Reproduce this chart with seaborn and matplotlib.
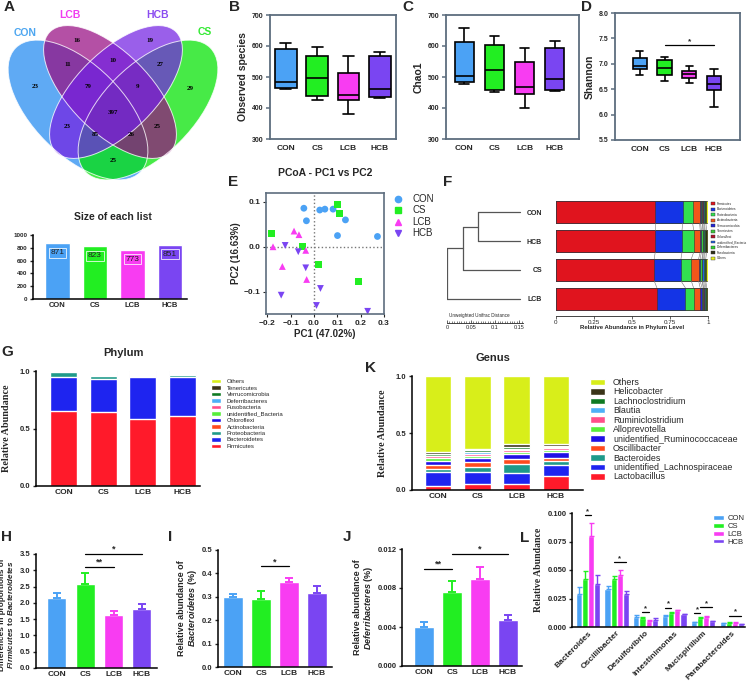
import numpy as np
import pandas as pd
import matplotlib
matplotlib.use('Agg')
import matplotlib.pyplot as plt
from matplotlib.patches import Ellipse, Patch
from matplotlib.lines import Line2D
from matplotlib.ticker import MultipleLocator
import seaborn as sns

sns.set_style('ticks')
plt.rcParams['font.family'] = ['Liberation Sans', 'DejaVu Sans']
plt.rcParams['font.weight'] = 'bold'
plt.rcParams['axes.labelweight'] = 'bold'
plt.rcParams['mathtext.fontset'] = 'custom'
plt.rcParams['mathtext.it'] = 'Liberation Sans:italic:bold'
plt.rcParams['mathtext.rm'] = 'Liberation Sans:bold'

# ---------------- data ----------------
groups = ['CON', 'CS', 'LCB', 'HCB']
group_colors = ['#4BA2F5', '#22EE22', '#F83CF2', '#7A45F2']

# A: venn
venn_sets = ['CON', 'CS', 'LCB', 'HCB']
venn_counts = [16, 19, 11, 10, 27, 23, 29, 79, 9, 397, 23, 85, 26, 25, 25]
list_sizes = [871, 823, 773, 851]

# B-D: min, q1, median, q3, max
observed = [[462, 464, 483, 590, 609], [427, 440, 496, 569, 598],
            [380, 427, 443, 513, 568], [432, 435, 462, 568, 581]]
chao1 = [[479, 485, 503, 613, 657], [451, 458, 522, 604, 633],
         [401, 446, 469, 549, 595], [455, 458, 495, 595, 615]]
shannon = [[6.77, 6.89, 6.96, 7.11, 7.26], [6.67, 6.78, 6.91, 7.07, 7.14],
           [6.62, 6.72, 6.80, 6.86, 6.95], [6.14, 6.49, 6.60, 6.76, 6.89]]

# E: PCoA
pc1_con = [-0.043, -0.032, 0.025, 0.047, 0.082, 0.135, 0.101, 0.272]
pc2_con = [0.086, 0.058, 0.082, 0.084, 0.084, 0.060, 0.025, 0.023]
pc1_cs = [-0.180, -0.050, 0.100, 0.108, 0.020, 0.190]
pc2_cs = [0.030, 0.000, 0.095, 0.074, -0.040, -0.077]
pc1_lcb = [-0.175, -0.085, -0.064, -0.135, -0.035, -0.031]
pc2_lcb = [0.000, 0.035, 0.027, -0.044, -0.008, -0.073]
pc1_hcb = [-0.123, -0.067, -0.035, -0.140, 0.028, 0.011, 0.230]
pc2_hcb = [0.003, -0.011, -0.047, -0.108, -0.093, -0.131, -0.144]

# F: UPGMA tree + phylum bars
tree_leaves = ['CON', 'HCB', 'CS', 'LCB']
merge_heights = [0.087, 0.119, 0.152]
f_phyla = ['Firmicutes', 'Bacteroidetes', 'Proteobacteria', 'Actinobacteria',
           'Verrucomicrobia', 'Tenericutes', 'Chloroflexi', 'unidentified_Bacteria',
           'Deferribacteres', 'Fusobacteria', 'Others']
f_colors = ['#E0141E', '#1434E6', '#32E050', '#F2561A', '#2424D8', '#3CC83C',
            '#B0102A', '#2060E0', '#30D030', '#2E3018', '#E6F020']
f_values = {
    'CON': [0.653, 0.180, 0.066, 0.046, 0.006, 0.010, 0.003, 0.008, 0.006, 0.008, 0.014],
    'HCB': [0.653, 0.176, 0.077, 0.043, 0.008, 0.009, 0.004, 0.006, 0.005, 0.010, 0.009],
    'CS':  [0.646, 0.176, 0.068, 0.048, 0.010, 0.012, 0.003, 0.008, 0.007, 0.007, 0.015],
    'LCB': [0.664, 0.187, 0.054, 0.044, 0.012, 0.008, 0.003, 0.006, 0.008, 0.006, 0.008],
}

# G: phylum stacked (bottom -> top)
phyla = ['Firmicutes', 'Bacteroidetes', 'Proteobacteria', 'Actinobacteria', 'Chloroflexi',
         'unidentified_Bacteria', 'Fusobacteria', 'Deferribacteres', 'Verrucomicrobia',
         'Tenericutes', 'Others']
phylum_values = {
    'CON': [0.650, 0.298, 0.040, 0.002, 0.004, 0.001, 0.002, 0.001, 0.001, 0.000, 0.001],
    'CS':  [0.642, 0.286, 0.032, 0.004, 0.010, 0.006, 0.002, 0.004, 0.008, 0.003, 0.003],
    'LCB': [0.581, 0.367, 0.012, 0.004, 0.003, 0.010, 0.002, 0.012, 0.004, 0.002, 0.003],
    'HCB': [0.610, 0.338, 0.014, 0.004, 0.004, 0.004, 0.002, 0.003, 0.012, 0.006, 0.003],
}
stack_colors = ['#FF1A2A', '#1E24F0', '#1E9A8A', '#FF4A1E', '#2010E6', '#58EE3A',
                '#FF4F8A', '#4DB0F7', '#0E7A22', '#3A3418', '#D8EE1A']

# K: genus stacked (bottom -> top)
genera = ['Lactobacillus', 'unidentified_Lachnospiraceae', 'Bacteroides', 'Oscillibacter',
          'unidentified_Ruminococcaceae', 'Alloprevotella', 'Ruminiclostridium', 'Blautia',
          'Lachnoclostridium', 'Helicobacter', 'Others']
genus_values = {
    'CON': [0.035, 0.120, 0.029, 0.035, 0.038, 0.020, 0.018, 0.005, 0.015, 0.017, 0.668],
    'CS':  [0.052, 0.108, 0.044, 0.038, 0.041, 0.014, 0.021, 0.011, 0.018, 0.017, 0.636],
    'LCB': [0.052, 0.100, 0.078, 0.041, 0.044, 0.020, 0.018, 0.009, 0.017, 0.023, 0.598],
    'HCB': [0.122, 0.097, 0.038, 0.026, 0.046, 0.018, 0.023, 0.009, 0.009, 0.014, 0.598],
}

# H-J: mean, sem
fb_ratio = [2.15, 2.57, 1.63, 1.82]
fb_sem = [0.15, 0.35, 0.12, 0.14]
bact_abund = [0.298, 0.292, 0.362, 0.318]
bact_sem = [0.015, 0.032, 0.020, 0.029]
defer_abund = [0.0040, 0.0076, 0.0089, 0.0047]
defer_sem = [0.0005, 0.0011, 0.0013, 0.0005]

# L: genus abundance (mean, sem per group)
l_genera = ['Bacteroides', 'Oscillibacter', 'Desulfovibrio', 'Intestinimonas',
            'Mucispirillum', 'Parabacteroides']
l_means = {
    'CON': [0.029, 0.033, 0.0090, 0.0100, 0.0042, 0.0035],
    'CS':  [0.042, 0.042, 0.0080, 0.0125, 0.0080, 0.0037],
    'LCB': [0.080, 0.046, 0.0055, 0.0145, 0.0090, 0.0037],
    'HCB': [0.038, 0.029, 0.0065, 0.0110, 0.0050, 0.0022],
}
l_sems = {
    'CON': [0.006, 0.003, 0.0012, 0.0006, 0.0006, 0.0003],
    'CS':  [0.007, 0.003, 0.0012, 0.0005, 0.0008, 0.0003],
    'LCB': [0.011, 0.004, 0.0006, 0.0005, 0.0010, 0.0003],
    'HCB': [0.008, 0.003, 0.0010, 0.0006, 0.0005, 0.0003],
}

# significance marks: (group a, group b, height, label)
sig_d = [(1, 3, 7.37, '*')]
sig_h = [(1, 3, 3.5, '*'), (1, 2, 3.1, '**')]
sig_i = [(1, 2, 0.43, '*')]
sig_j = [(0, 1, 0.0100, '**'), (1, 3, 0.0115, '*')]
sig_l = [(0, 1, 2, 0.098), (1, 1, 3, 0.057), (2, 1, 2, 0.013), (3, 0, 1, 0.017),
         (4, 0, 1, 0.012), (4, 1, 3, 0.0175), (5, 1, 3, 0.010)]

# ---------------- figure ----------------
W, H = 748, 682
fig = plt.figure(figsize=(W / 100, H / 100), dpi=100)


def add_ax(l, t, r, b):
    return fig.add_axes([l / W, 1 - b / H, (r - l) / W, (b - t) / H])


def ftext(x, y, s, **kw):
    fig.text(x / W, 1 - y / H, s, **kw)


def style_prism(ax, ylab_size=5.5):
    sns.despine(ax=ax)
    ax.spines['left'].set_linewidth(1.1)
    ax.spines['bottom'].set_linewidth(1.1)
    ax.spines['left'].set_color('black')
    ax.spines['bottom'].set_color('black')
    ax.tick_params(axis='x', length=0, labelsize=6, pad=2.5)
    ax.tick_params(axis='y', length=2.5, width=1, labelsize=ylab_size, pad=1.5)
    ax.set_xlabel('')


def add_sig(ax, x1, x2, y, label, fs=6.5):
    ax.plot([x1, x2], [y, y], color='black', lw=0.9, clip_on=False)
    ax.text((x1 + x2) / 2, y, label, ha='center', va='bottom', fontsize=fs, clip_on=False)


def bar_err(ax, means, sems, width):
    sns.barplot(x=groups, y=means, hue=groups, palette=group_colors, width=width,
                saturation=1, legend=False, ax=ax)
    for i, (m, s) in enumerate(zip(means, sems)):
        ax.errorbar(i, m, yerr=[[0], [s]], fmt='none', ecolor=group_colors[i],
                    elinewidth=1.4, capsize=3.2, capthick=1.4)


# ---- A: venn ----
ax = add_ax(0, 0, 225, 190)
ax.set_xlim(0, 225)
ax.set_ylim(190, 0)
ax.axis('off')
ell_fill = {'CON': '#2289F1', 'LCB': '#970C82', 'HCB': '#7421E3', 'CS': '#00E300'}
ell_geom = {'CON': ((78, 110), 176, 90, 45), 'LCB': ((110, 92), 170, 80, 45),
            'HCB': ((116, 92), 170, 80, -45), 'CS': ((148, 110), 176, 90, -45)}
for name in venn_sets:
    c, w, h, a = ell_geom[name]
    ax.add_patch(Ellipse(c, w, h, angle=a, facecolor=ell_fill[name], alpha=0.72,
                         edgecolor='none'))
for name in venn_sets:
    c, w, h, a = ell_geom[name]
    ax.add_patch(Ellipse(c, w, h, angle=a, facecolor='none', edgecolor='white', lw=0.7,
                         alpha=0.8))
venn_xy = [(77, 41), (150, 41), (68, 65), (113, 60), (160, 64), (35, 87), (190, 88),
           (88, 87), (137, 86), (113, 113), (67, 126), (95, 135), (131, 135),
           (157, 126), (113, 160)]
for (x, y), n in zip(venn_xy, venn_counts):
    ax.text(x, y, str(n), ha='center', va='center', fontsize=5, color='black',
            family=['Liberation Serif'])
label_col = {'CON': '#4DA6F0', 'LCB': '#F03CF0', 'HCB': '#8A4CF0', 'CS': '#33EA33'}
label_xy = {'CON': (25, 33), 'LCB': (70, 15), 'HCB': (158, 15), 'CS': (205, 32)}
for name in venn_sets:
    ftext(*label_xy[name], name, color=label_col[name], fontsize=7.5, ha='center', va='center')

ftext(113, 217, 'Size of each list', fontsize=7.5, ha='center', va='center')
ax = add_ax(33, 235, 187, 299)
sns.barplot(x=groups, y=list_sizes, hue=groups, palette=group_colors, width=0.66,
            saturation=1, legend=False, ax=ax)
for i, v in enumerate(list_sizes):
    ax.text(i, v - 150, str(v), ha='center', va='center', fontsize=6, fontweight='normal',
            color='#222222', bbox=dict(facecolor=group_colors[i], edgecolor='#ffffff',
                                       lw=0.6, alpha=0.9, pad=1.2))
ax.set_ylim(0, 1000)
ax.set_yticks(range(0, 1001, 200))
ax.set_xlim(-0.65, 3.45)
style_prism(ax, ylab_size=4.5)
ax.tick_params(axis='x', labelsize=5.5)

# ---- B-D: boxplots ----
def box_panel(box, five_nums, ylim, yticks, ylabel, width, xlim, tickfmt):
    ax = add_ax(*box)
    df = pd.DataFrame({'group': np.repeat(groups, 5), 'value': np.concatenate(five_nums)})
    sns.boxplot(data=df, x='group', y='value', hue='group', palette=group_colors,
                whis=(0, 100), width=width, linewidth=1.2, linecolor='black',
                showfliers=False, saturation=1, legend=False, ax=ax)
    ax.set_ylim(*ylim)
    ax.set_xlim(*xlim)
    ax.set_yticks(yticks)
    ax.set_yticklabels([tickfmt.format(t) for t in yticks])
    for s in ax.spines.values():
        s.set_color('#5d6d7e')
        s.set_linewidth(1.3)
    ax.tick_params(axis='x', length=0, labelsize=6, pad=4)
    ax.tick_params(axis='y', length=3, width=1.1, labelsize=5, pad=1.5, color='#5d6d7e')
    ax.set_xlabel('')
    ax.set_ylabel(ylabel, fontsize=7.5, labelpad=3)
    return ax


box_panel((270, 15, 396, 139), observed, (300, 700), [300, 400, 500, 600, 700],
          'Observed species', 0.7, (-0.51, 3.52), '{:.0f}')
box_panel((446, 15, 579, 139), chao1, (300, 700), [300, 400, 500, 600, 700],
          'Chao1', 0.62, (-0.6, 3.8), '{:.0f}')
ax = box_panel((615, 13, 740, 140), shannon, (5.5, 8.0), [5.5, 6.0, 6.5, 7.0, 7.5, 8.0],
               'Shannon', 0.57, (-1.0, 4.05), '{:.1f}')
for a, b, y, lab in sig_d:
    add_sig(ax, a, b, y, lab, fs=6)

# ---- E: PCoA ----
ax = add_ax(266, 193, 384, 314)
pcoa = pd.DataFrame({
    'pc1': pc1_con + pc1_cs + pc1_lcb + pc1_hcb,
    'pc2': pc2_con + pc2_cs + pc2_lcb + pc2_hcb,
    'group': ['CON'] * len(pc1_con) + ['CS'] * len(pc1_cs) + ['LCB'] * len(pc1_lcb)
             + ['HCB'] * len(pc1_hcb),
})
marker_map = {'CON': 'o', 'CS': 's', 'LCB': '^', 'HCB': 'v'}
ax.axhline(0, ls=':', color='#777777', lw=1, zorder=0)
ax.axvline(0, ls=':', color='#777777', lw=1, zorder=0)
sns.scatterplot(data=pcoa, x='pc1', y='pc2', hue='group', style='group', hue_order=groups,
                palette=group_colors, markers=marker_map, s=24, edgecolor='none',
                legend=False, ax=ax)
ax.set_xlim(-0.205, 0.3)
ax.set_ylim(-0.15, 0.12)
ax.set_xticks([-0.2, -0.1, 0.0, 0.1, 0.2, 0.3])
ax.set_yticks([-0.1, 0.0, 0.1])
for s in ax.spines.values():
    s.set_color('#5d6d7e')
    s.set_linewidth(1.2)
ax.tick_params(labelsize=6, length=2.5, pad=1.5)
ax.set_xlabel('PC1 (47.02%)', fontsize=7, labelpad=2)
ax.set_ylabel('PC2 (16.63%)', fontsize=7, labelpad=2)
ftext(325, 173, 'PCoA - PC1 vs PC2', fontsize=7.5, ha='center', va='center')
handles = [Line2D([], [], ls='none', marker=marker_map[g], color=c, markersize=4.5)
           for g, c in zip(groups, group_colors)]
fig.legend(handles, groups, loc='upper left', bbox_to_anchor=(392 / W, 1 - 194 / H),
           frameon=False, prop={'size': 7, 'weight': 'normal'}, handletextpad=0.9,
           labelspacing=0.15, borderpad=0, borderaxespad=0, handlelength=1.2)

# ---- F: tree + phylum bars ----
ax = add_ax(447, 198, 523, 316)
ax.set_xlim(0, 0.158)
ax.set_ylim(3.6, -0.5)
ax.axis('off')
root = merge_heights[-1]
node_y, node_x = 0, root
tip_x = root
for k, h in enumerate(merge_heights):
    xm = root - h
    if k == 0:
        ya, xa = 0, tip_x
    else:
        ya, xa = node_y, node_x
    yb, xb = k + 1, tip_x
    ax.plot([xm, xm], [ya, yb], color='#555555', lw=0.9)
    ax.plot([xm, xa], [ya, ya], color='#555555', lw=0.9)
    ax.plot([xm, xb], [yb, yb], color='#555555', lw=0.9)
    node_y, node_x = (ya + yb) / 2, xm

ax = add_ax(447, 300, 523, 323)
ax.set_xlim(0, 0.158)
for s in ['left', 'right', 'top']:
    ax.spines[s].set_visible(False)
ax.spines['bottom'].set_linewidth(0.6)
ax.set_yticks([])
ax.set_xticks([0, 0.05, 0.1, 0.15])
ax.set_xticklabels(['0', '0.05', '0.1', '0.15'])
ax.xaxis.set_minor_locator(MultipleLocator(0.005))
ax.tick_params(axis='x', which='major', direction='in', length=2, width=0.5, labelsize=4,
               pad=1.5)
ax.tick_params(axis='x', which='minor', direction='in', length=1.1, width=0.4)
ax.patch.set_alpha(0)
for t in ax.get_xticklabels():
    t.set_fontweight('normal')
ftext(449, 318, 'Unweighted Unifrac Distance', fontsize=3.3, fontweight='normal',
      ha='left', va='bottom')

ax = add_ax(556, 198, 708, 316)
f_cum = {g: np.cumsum(f_values[g]) for g in tree_leaves}
for k in range(len(f_phyla) - 1, -1, -1):
    sns.barplot(x=[f_cum[g][k] for g in tree_leaves], y=tree_leaves, orient='h',
                color=f_colors[k], width=0.76, saturation=1, edgecolor='#333333',
                linewidth=0.4, ax=ax)
for i in range(len(tree_leaves) - 1):
    for k in range(len(f_phyla) - 1):
        ax.plot([f_cum[tree_leaves[i]][k], f_cum[tree_leaves[i + 1]][k]],
                [i + 0.38, i + 1 - 0.38], color='#777777', lw=0.4)
ax.set_xlim(0, 1.0)
ax.set_ylim(3.6, -0.5)
for s in ['left', 'right', 'top']:
    ax.spines[s].set_visible(False)
ax.spines['bottom'].set_linewidth(0.6)
ax.set_xticks([0, 0.25, 0.5, 0.75, 1])
ax.set_xticklabels(['0', '0.25', '0.5', '0.75', '1'])
ax.tick_params(axis='x', length=2, width=0.5, labelsize=4.5, pad=1)
ax.tick_params(axis='y', length=0, labelsize=5, pad=10)
for t in ax.get_xticklabels():
    t.set_fontweight('normal')
ax.set_xlabel('Relative Abundance in Phylum Level', fontsize=4.3, labelpad=0)
ax.set_ylabel('')
fh = [Patch(facecolor=c, edgecolor='#333333', lw=0.3) for c in f_colors]
fig.legend(fh, f_phyla, loc='upper left', bbox_to_anchor=(711 / W, 1 - 202 / H),
           frameon=False, prop={'size': 2.3, 'weight': 'normal'}, handlelength=1.3,
           handleheight=1.0, labelspacing=0.45, handletextpad=0.5, borderpad=0,
           borderaxespad=0)

# ---- G / K: stacked bars ----
def stacked_panel(box, values, names, xlim, title, title_xy, legend_xy, legend_fs, spacing):
    ax = add_ax(*box)
    cum = {g: np.cumsum(values[g]) for g in groups}
    for k in range(len(names) - 1, -1, -1):
        sns.barplot(x=groups, y=[cum[g][k] for g in groups], color=stack_colors[k],
                    width=0.68, saturation=1, ax=ax)
    ax.set_ylim(0, 1.0)
    ax.set_xlim(*xlim)
    ax.set_yticks([0, 0.5, 1.0])
    ax.set_yticklabels(['0.0', '0.5', '1.0'])
    style_prism(ax, ylab_size=5.5)
    ax.set_ylabel('Relative Abundance', fontsize=7.3, family=['Liberation Serif'], labelpad=6)
    ftext(*title_xy, title, fontsize=8, ha='center', va='center')
    hh = [Patch(facecolor=stack_colors[k]) for k in range(len(names) - 1, -1, -1)]
    ax.legend(hh, names[::-1], loc='upper left', bbox_to_anchor=(legend_xy[0] / W, 1 - legend_xy[1] / H),
              bbox_transform=fig.transFigure, frameon=False,
              prop={'size': legend_fs, 'weight': 'normal'}, handlelength=1.7,
              handleheight=0.75, labelspacing=spacing, handletextpad=0.9, borderpad=0,
              borderaxespad=0)
    return ax


stacked_panel((36, 371, 200, 486), phylum_values, phyla, (-0.7, 3.45), 'Phylum', (123, 353),
              (211, 379), 4.3, 0.2)
stacked_panel((412, 376, 583, 490), genus_values, genera, (-0.66, 3.69), 'Genus', (493, 358),
              (590, 378), 6.4, 0.05)

# ---- H ----
ax = add_ax(36, 554, 157, 668)
bar_err(ax, fb_ratio, fb_sem, 0.67)
ax.set_ylim(0, 3.5)
ax.set_yticks(np.arange(0, 3.51, 0.5))
ax.set_yticklabels(['{:.1f}'.format(t) for t in np.arange(0, 3.51, 0.5)])
ax.set_xlim(-0.74, 3.53)
style_prism(ax)
ax.set_ylabel('Differences in proportions of\n$Firmicutes$ to $Bacteroidetes$', fontsize=5.9,
              linespacing=1.0)
ax.yaxis.set_label_coords(-0.175, 0.47)
for a, b, y, lab in sig_h:
    add_sig(ax, a, b, y, lab)

# ---- I ----
ax = add_ax(218, 550, 332, 667)
bar_err(ax, bact_abund, bact_sem, 0.72)
ax.set_ylim(0, 0.5)
ax.set_yticks(np.arange(0, 0.51, 0.1))
ax.set_yticklabels(['{:.1f}'.format(t) for t in np.arange(0, 0.51, 0.1)])
ax.set_xlim(-0.54, 3.54)
style_prism(ax)
ax.set_ylabel('Relative abundance of\n$Bacteroidetes$ (%)', fontsize=6.5, labelpad=2,
              linespacing=1.0)
for a, b, y, lab in sig_i:
    add_sig(ax, a, b, y, lab)

# ---- J ----
ax = add_ax(402, 549, 522, 666)
bar_err(ax, defer_abund, defer_sem, 0.72)
ax.set_ylim(0, 0.012)
ax.set_yticks([0, 0.004, 0.008, 0.012])
ax.set_yticklabels(['0.000', '0.004', '0.008', '0.012'])
ax.set_xlim(-0.8, 3.5)
style_prism(ax)
ax.set_ylabel('Relative abundance of\n$Deferribacteres$ (%)', fontsize=6.5, labelpad=2,
              linespacing=1.0)
for a, b, y, lab in sig_j:
    add_sig(ax, a, b, y, lab)

# ---- L ----
ax = add_ax(572, 513, 745, 627)
ldf = pd.DataFrame([(gn, g, l_means[g][i], l_sems[g][i])
                    for g in groups for i, gn in enumerate(l_genera)],
                   columns=['genus', 'group', 'mean', 'sem'])
sns.barplot(data=ldf, x='genus', y='mean', hue='group', hue_order=groups, order=l_genera,
            palette=group_colors, width=0.85, saturation=1, legend=False, ax=ax)
bar_x = {}
for j, (g, cont) in enumerate(zip(groups, ax.containers)):
    for i, bar in enumerate(cont):
        xc = bar.get_x() + bar.get_width() / 2
        bar_x[(i, j)] = xc
        ax.errorbar(xc, l_means[g][i], yerr=[[0], [l_sems[g][i]]], fmt='none',
                    ecolor=group_colors[j], elinewidth=1.0, capsize=1.8, capthick=1.0)
ax.set_ylim(0, 0.1)
ax.set_xlim(-0.55, 5.45)
ax.set_yticks([0, 0.025, 0.05, 0.075, 0.1])
ax.set_yticklabels(['0.000', '0.025', '0.050', '0.075', '0.100'])
style_prism(ax)
ax.set_ylabel('Relative Abundance', fontsize=7, family=['Liberation Serif'], labelpad=3)
for lab in ax.get_xticklabels():
    lab.set_rotation(45)
    lab.set_ha('right')
    lab.set_rotation_mode('anchor')
ax.tick_params(axis='x', labelsize=6, pad=2)
for i, a, b, y in sig_l:
    add_sig(ax, bar_x[(i, a)], bar_x[(i, b)], y, '*', fs=5.5)
lh = [Patch(facecolor=c) for c in group_colors]
fig.legend(lh, groups, loc='upper left', bbox_to_anchor=(713 / W, 1 - 515 / H),
           frameon=False, prop={'size': 5.5, 'weight': 'normal'}, handlelength=1.5,
           handleheight=0.6, labelspacing=0.1, handletextpad=0.4, borderpad=0,
           borderaxespad=0)

# ---- panel letters ----
for lab, (x, y) in {'A': (9, 7), 'B': (235, 7), 'C': (408, 7), 'D': (587, 7), 'E': (233, 182),
                    'F': (448, 182), 'G': (7, 352), 'K': (370, 368), 'H': (7, 537),
                    'I': (170, 537), 'J': (347, 537), 'L': (525, 538)}.items():
    ftext(x, y, lab, fontsize=11, ha='center', va='center')

fig.savefig('out.png', dpi=100)
